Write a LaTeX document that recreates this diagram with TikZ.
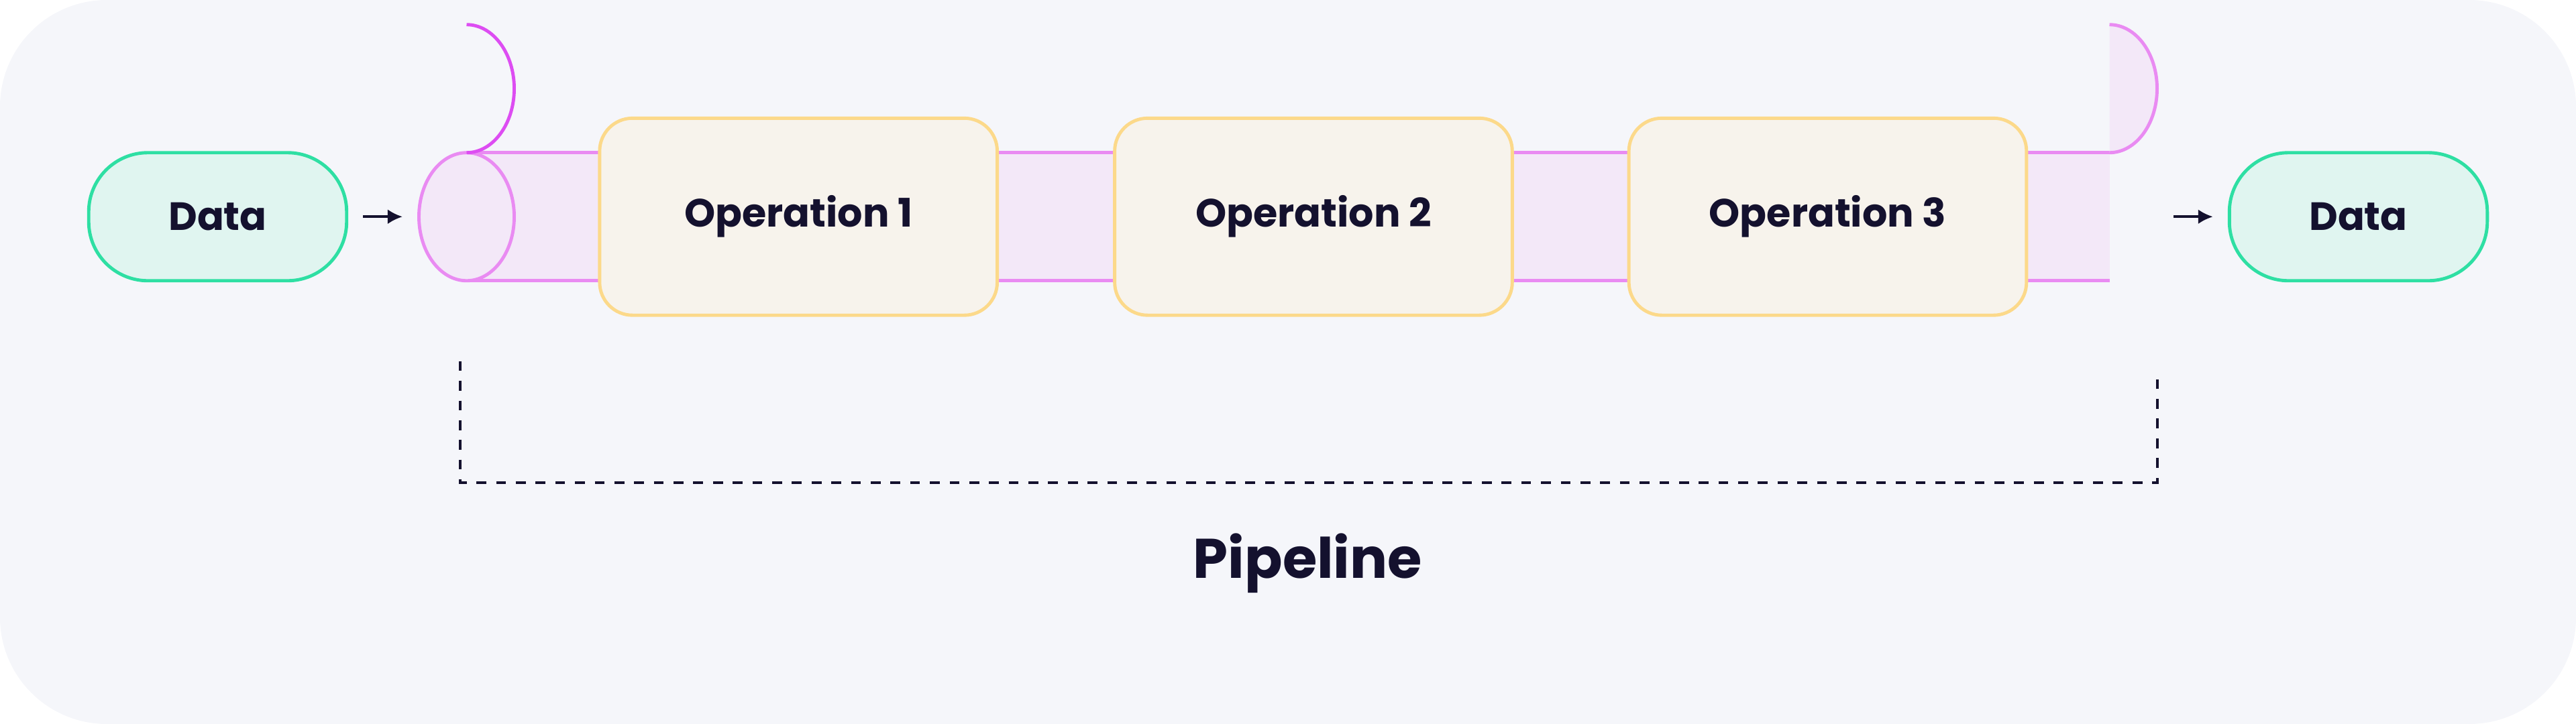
\documentclass[tikz,border=0pt]{standalone}
\usepackage{fontspec}
\usetikzlibrary{arrows.meta}
\setmainfont{Poppins}
\definecolor{bg}{HTML}{F5F6FA}
\definecolor{ink}{HTML}{14112E}
\definecolor{gstroke}{HTML}{2EDFA3}
\definecolor{gfill}{HTML}{E0F5F0}
\definecolor{pstroke}{HTML}{E98BF2}
\definecolor{pdark}{HTML}{DD4DF2}
\definecolor{pfill}{HTML}{F3E8F8}
\definecolor{ystroke}{HTML}{FCD98A}
\definecolor{yfill}{HTML}{F7F3EC}
\begin{document}
\begin{tikzpicture}[x=1pt,y=-1pt,
  data/.style={draw=gstroke,fill=gfill,line width=2pt,rounded corners=36pt,minimum width=157pt,minimum height=78pt,font=\fontsize{24}{28}\selectfont\bfseries,text=ink},
  op/.style={draw=ystroke,fill=yfill,line width=2pt,rounded corners=20pt,minimum width=242pt,minimum height=120pt,font=\fontsize{24}{28}\selectfont\bfseries,text=ink},
  arr/.style={ink,line width=1.6pt,-{Latex[length=9pt,width=9pt]}},
  brk/.style={ink,line width=1.6pt,dash pattern=on 6pt off 6pt}]
\useasboundingbox (0,0) rectangle (1568,441);
\fill[bg,rounded corners=65pt] (0,0) rectangle (1568,441);
% tube
\fill[pfill] (284,93) rectangle (1284,171);
\draw[pstroke,line width=2pt] (284,93) -- (1284,93);
\draw[pstroke,line width=2pt] (284,171) -- (1284,171);
\filldraw[pstroke,fill=pfill,line width=2pt] (1284,93) arc[start angle=-90,end angle=90,x radius=29,y radius=-39];
\filldraw[pstroke,fill=pfill,line width=2pt] (284,132) ellipse[x radius=29,y radius=39];
\draw[pdark,line width=2pt] (284,93) arc[start angle=-90,end angle=90,x radius=29,y radius=-39];
\coordinate (cin) at (250,132);
\coordinate (cout) at (1318,132);
\node[data] (d1) at (132.5,132) {Data};
\node[data] (d2) at (1435.5,132) {Data};
\node[op] (o1) at (486,132) {Operation 1};
\node[op] (o2) at (799.5,132) {Operation 2};
\node[op] (o3) at (1112.5,132) {Operation 3};
\draw[arr] ([xshift=9pt]d1.east) -- ([xshift=-5pt]cin);
\draw[arr] ([xshift=5pt]cout) -- ([xshift=-9pt]d2.west);
\coordinate (b1) at (280,220);
\coordinate (b2) at (1313,228);
\draw[brk] (b1) -- (280,294) -- (1313,294) -- (b2);
\node[font=\fontsize{34}{40}\selectfont\bfseries,text=ink] (pl) at (796,343) {Pipeline};
\end{tikzpicture}
\end{document}
